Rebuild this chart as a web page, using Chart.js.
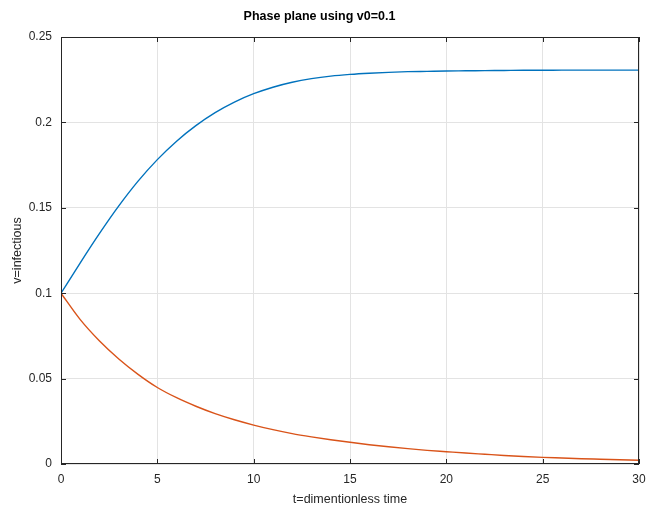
<!DOCTYPE html>
<html>
<head>
<meta charset="UTF-8">
<script src="https://cdn.jsdelivr.net/npm/chart.js"></script>
<style>
  body { margin: 0; background: #fff; }
  #wrap { width: 647px; height: 509px; }
</style>
</head>
<body>
<div id="wrap"><canvas id="c" width="647" height="509"></canvas></div>
<script>
// time points (dimensionless)
const tValues = [0,1,2,3,4,5,6,7,8,9,10,11,12,13,14,15,16,17,18,19,20,21,22,23,24,25,26,27,28,29,30];
// upper curve (blue)
const vUpper = [0.1,0.1178,0.1350,0.1511,0.1656,0.1782,0.1890,0.1981,0.2057,0.2119,0.2168,0.2206,0.2235,0.2256,0.2271,0.2281,0.2288,0.2293,0.2297,0.2299,0.2301,0.2302,0.2303,0.2304,0.2305,0.2305,0.2306,0.2306,0.2306,0.2306,0.2306];
// lower curve (orange)
const vLower = [0.1,0.0845,0.072,0.0615,0.0525,0.0448,0.0388,0.0338,0.0295,0.0259,0.0228,0.0201,0.0178,0.0159,0.0142,0.0127,0.0113,0.0101,0.0090,0.0080,0.0072,0.0064,0.0057,0.0050,0.0044,0.0039,0.0035,0.0031,0.0028,0.0025,0.0022];
const xTicks = [0,5,10,15,20,25,30];
const yTicks = [0,0.05,0.1,0.15,0.2,0.25];

const font = "'Liberation Sans', Arial, Helvetica, sans-serif";

// box around the axes with inward tick marks, matlab style
const boxPlugin = {
  id: 'box',
  afterDraw(chart) {
    const { ctx, chartArea: a, scales } = chart;
    ctx.save();
    ctx.strokeStyle = '#262626';
    ctx.lineWidth = 1;
    ctx.strokeRect(a.left + 0.5, a.top + 0.5, a.right - a.left - 1, a.bottom - a.top - 1);
    ctx.beginPath();
    xTicks.forEach(v => {
      const px = Math.round(scales.x.getPixelForValue(v)) + 0.5;
      ctx.moveTo(px, a.bottom); ctx.lineTo(px, a.bottom - 5);
      ctx.moveTo(px, a.top); ctx.lineTo(px, a.top + 5);
    });
    yTicks.forEach(v => {
      const py = Math.round(scales.y.getPixelForValue(v)) + 0.5;
      ctx.moveTo(a.left, py); ctx.lineTo(a.left + 5, py);
      ctx.moveTo(a.right, py); ctx.lineTo(a.right - 5, py);
    });
    ctx.stroke();
    ctx.restore();
  }
};

new Chart(document.getElementById('c'), {
  type: 'line',
  data: {
    datasets: [
      {
        data: tValues.map((t, i) => ({ x: t, y: vUpper[i] })),
        borderColor: '#0072BD',
        borderWidth: 1.4,
        pointRadius: 0,
        cubicInterpolationMode: 'monotone'
      },
      {
        data: tValues.map((t, i) => ({ x: t, y: vLower[i] })),
        borderColor: '#D95319',
        borderWidth: 1.4,
        pointRadius: 0,
        cubicInterpolationMode: 'monotone'
      }
    ]
  },
  options: {
    responsive: false,
    animation: false,
    layout: { padding: { left: 0, right: 8, top: 0, bottom: 0 } },
    plugins: {
      legend: { display: false },
      tooltip: { enabled: false },
      title: {
        display: true,
        text: 'Phase plane using v0=0.1',
        color: '#000',
        font: { family: font, size: 12.5, weight: 'bold' },
        padding: { top: 9, bottom: 13 }
      }
    },
    scales: {
      x: {
        type: 'linear',
        min: 0, max: 30,
        afterBuildTicks: s => { s.ticks = xTicks.map(v => ({ value: v })); },
        afterFit: s => { s.height = 45; s.paddingLeft = 0; s.paddingRight = 0; },
        grid: { color: '#e3e3e3', drawTicks: false },
        border: { display: false },
        ticks: { color: '#262626', padding: 8, maxRotation: 0, font: { family: font, size: 12 } },
        title: { display: true, text: 't=dimentionless time', color: '#262626', padding: { top: 0, bottom: 2 }, font: { family: font, size: 12.5 } }
      },
      y: {
        type: 'linear',
        min: 0, max: 0.25,
        afterBuildTicks: s => { s.ticks = yTicks.map(v => ({ value: v })); },
        afterFit: s => { s.width = 61; s.paddingTop = 0; s.paddingBottom = 0; },
        grid: { color: '#e3e3e3', drawTicks: false },
        border: { display: false },
        ticks: { color: '#262626', padding: 9, font: { family: font, size: 12 }, callback: v => String(Math.round(v * 100) / 100) },
        title: { display: true, text: 'v=infectious', color: '#262626', padding: { top: 10, bottom: 0 }, font: { family: font, size: 12.5 } }
      }
    }
  },
  plugins: [boxPlugin]
});
</script>
</body>
</html>
